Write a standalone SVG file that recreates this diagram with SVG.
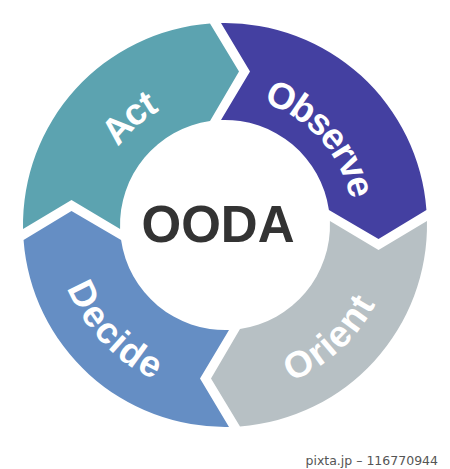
<svg xmlns="http://www.w3.org/2000/svg" xmlns:xlink="http://www.w3.org/1999/xlink" width="450" height="469" viewBox="0 0 450 469">
  <style>
    .lbl { font-family: "Liberation Sans", Arial, sans-serif; font-weight: bold; font-size: 37px; fill: #ffffff; dominant-baseline: central; }
    .center { font-family: "Liberation Sans", Arial, sans-serif; font-weight: bold; font-size: 51px; fill: #333333; }
    .wm { font-family: "DejaVu Sans", sans-serif; font-size: 12.5px; fill: #555555; }
  </style>
  <defs>
    <path id="seg" d="M 221 23.04 A 202 202 0 0 1 426.44 210 L 378.5 239 L 328.92 210 A 105 105 0 0 0 221 120.08 L 250 71.5 Z"/>
    <path id="pObserve" d="M 172.2 94.3 A 141 141 0 0 1 349.5 291.2" fill="none"/>
    <path id="pAct" d="M 90.3 278.6 A 145 145 0 0 1 293.7 97.3" fill="none"/>
    <path id="pDecide" d="M 84.5 154.9 A 157 157 0 0 0 287.6 369" fill="none"/>
    <path id="pOrient" d="M 152.5 364.3 A 157 157 0 0 0 370.1 164.9" fill="none"/>
  </defs>
  <rect width="450" height="469" fill="#ffffff"/>
  <g id="connectors"></g>
  <g id="observe">
    <use xlink:href="#seg" href="#seg" fill="#4440a1"/>
    <text class="lbl"><textPath xlink:href="#pObserve" href="#pObserve" startOffset="50%" text-anchor="middle">Observe</textPath></text>
  </g>
  <g id="orient">
    <use xlink:href="#seg" href="#seg" fill="#b7c0c4" transform="rotate(90 225 225)"/>
    <text class="lbl"><textPath xlink:href="#pOrient" href="#pOrient" startOffset="50%" text-anchor="middle">Orient</textPath></text>
  </g>
  <g id="decide">
    <use xlink:href="#seg" href="#seg" fill="#658ec4" transform="rotate(180 225 225)"/>
    <text class="lbl"><textPath xlink:href="#pDecide" href="#pDecide" startOffset="50%" text-anchor="middle">Decide</textPath></text>
  </g>
  <g id="act">
    <use xlink:href="#seg" href="#seg" fill="#5ca3b0" transform="rotate(270 225 225)"/>
    <text class="lbl"><textPath xlink:href="#pAct" href="#pAct" startOffset="50%" text-anchor="middle">Act</textPath></text>
  </g>
  <g id="ooda">
    <text class="center" x="218" y="242" text-anchor="middle">OODA</text>
  </g>
  <text class="wm" x="438" y="465" text-anchor="end">pixta.jp – 116770944</text>
</svg>
